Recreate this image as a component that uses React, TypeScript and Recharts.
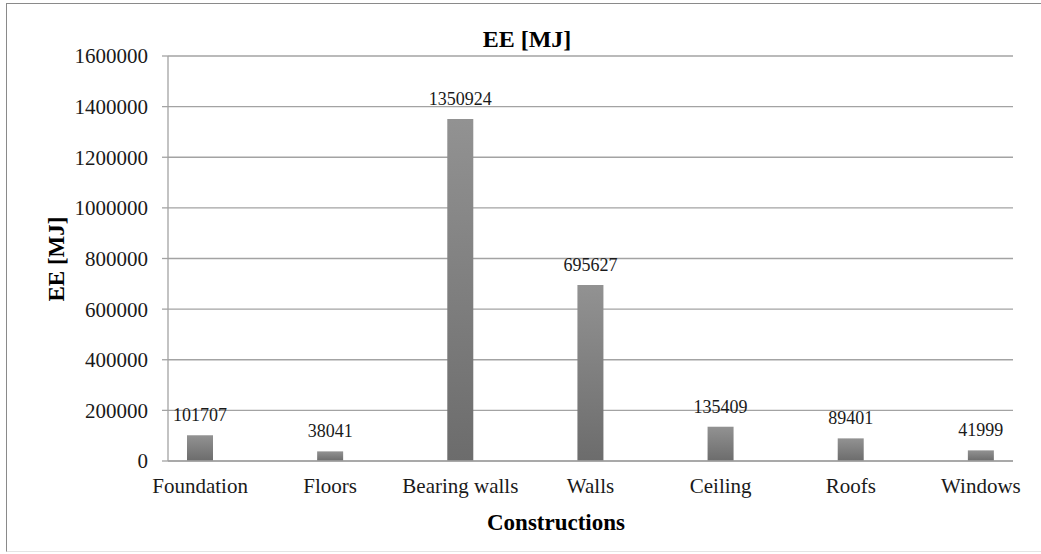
import React from 'react';
import { BarChart, Bar, XAxis, YAxis, CartesianGrid, LabelList } from 'recharts';

const categories = ['Foundation', 'Floors', 'Bearing walls', 'Walls', 'Ceiling', 'Roofs', 'Windows'];
const eeValues = [101707, 38041, 1350924, 695627, 135409, 89401, 41999];
const yTicks = [0, 200000, 400000, 600000, 800000, 1000000, 1200000, 1400000, 1600000];
const chartTitle = 'EE [MJ]';
const yAxisTitle = 'EE [MJ]';
const xAxisTitle = 'Constructions';

const data = categories.map((name, i) => ({ name, ee: eeValues[i] }));

const FONT = 'Liberation Serif, Tinos, Times New Roman, DejaVu Serif, serif';
const GRID = '#a3a3a3';

export default function App() {
  return (
    <div style={{ position: 'absolute', left: 0, top: 0, width: 1041, height: 554, background: '#fff', overflow: 'hidden' }}>
      <div
        style={{
          position: 'absolute',
          left: 6,
          top: 3,
          width: 1100,
          height: 549,
          borderLeft: '1.5px solid #8a8a8a',
          borderTop: '1.5px solid #8a8a8a',
          borderBottom: '1px solid #e4e4e4',
          boxSizing: 'border-box',
        }}
      />
      <div style={{ position: 'absolute', left: 0, top: 0, fontFamily: FONT }}>
        <BarChart
          width={1041}
          height={554}
          data={data}
          margin={{ top: 56, right: 28, bottom: 33, left: 68 }}
          barCategoryGap={0}
          style={{ fontFamily: FONT }}
        >
          <defs>
            <linearGradient id="barGrad" x1="0" y1="0" x2="0" y2="1">
              <stop offset="0%" stopColor="#929292" />
              <stop offset="100%" stopColor="#6c6c6c" />
            </linearGradient>
          </defs>
          <CartesianGrid vertical={false} stroke={GRID} strokeWidth={1.3} />
          <XAxis
            dataKey="name"
            type="category"
            height={60}
            padding={{ left: -33, right: -33 }}
            axisLine={{ stroke: GRID, strokeWidth: 1.3 }}
            tickLine={false}
            tickSize={6}
            tickMargin={11}
            interval={0}
            tick={{ fontSize: 21, fill: '#1a1a1a', style: { fontFamily: FONT } }}
          />
          <YAxis
            width={100}
            domain={[0, 1600000]}
            ticks={yTicks}
            interval={0}
            axisLine={{ stroke: GRID, strokeWidth: 1.3 }}
            tickLine={{ stroke: GRID, strokeWidth: 1.3 }}
            tickSize={6}
            tickMargin={14}
            tick={{ fontSize: 21, fill: '#1a1a1a', style: { fontFamily: FONT } }}
          />
          <Bar dataKey="ee" barSize={26} fill="url(#barGrad)" isAnimationActive={false}>
            <LabelList
              dataKey="ee"
              position="top"
              offset={14}
              style={{ fontSize: 18, fill: '#1a1a1a', fontFamily: FONT }}
            />
          </Bar>
        </BarChart>
      </div>
      <svg
        width={1041}
        height={554}
        style={{ position: 'absolute', left: 0, top: 0, pointerEvents: 'none', fontFamily: FONT }}
      >
        <text x={527} y={47} textAnchor="middle" style={{ fontFamily: FONT }} fontWeight="bold" fontSize={24} fill="#000">
          {chartTitle}
        </text>
        <text
          x={64}
          y={259}
          textAnchor="middle"
          style={{ fontFamily: FONT }}
          fontWeight="bold"
          fontSize={23}
          fill="#000"
          transform="rotate(-90 64 259)"
        >
          {yAxisTitle}
        </text>
        <text x={556} y={530} textAnchor="middle" style={{ fontFamily: FONT }} fontWeight="bold" fontSize={23} fill="#000">
          {xAxisTitle}
        </text>
      </svg>
    </div>
  );
}
